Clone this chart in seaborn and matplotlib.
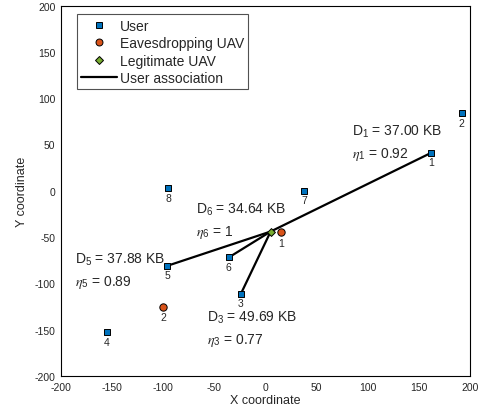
import numpy as np
import pandas as pd
import matplotlib
matplotlib.use("Agg")
import matplotlib.pyplot as plt
import seaborn as sns
from matplotlib.lines import Line2D

# user positions
user_x = [162, 192, -24, -155, -96, -36, 38, -95]
user_y = [41, 84, -111, -153, -81, -72, 0, 3]
# eavesdropping UAVs
eve_x = [15, -100]
eve_y = [-45, -125]
# legitimate UAV
uav_x = [5]
uav_y = [-44]
# associated users (1-based index)
assoc = [1, 5, 6, 3]
data_kb = [37.00, 37.88, 34.64, 49.69]
eta = ["0.92", "0.89", "1", "0.77"]

sns.set_style("white")
plt.rcParams["font.family"] = ["Liberation Sans", "DejaVu Sans"]
plt.rcParams["mathtext.fontset"] = "stix"
plt.rcParams["axes.unicode_minus"] = False

fig = plt.figure(figsize=(4.82, 4.10), dpi=100)
ax = fig.add_axes([0.1266, 0.0805, 0.8486, 0.9035])

users = pd.DataFrame({"x": user_x, "y": user_y})
eves = pd.DataFrame({"x": eve_x, "y": eve_y})
uav = pd.DataFrame({"x": uav_x, "y": uav_y})

# association lines
for k in assoc:
    seg = pd.DataFrame({"x": [uav_x[0], user_x[k - 1]], "y": [uav_y[0], user_y[k - 1]]})
    sns.lineplot(data=seg, x="x", y="y", color="black", lw=1.6, ax=ax, sort=False,
                 zorder=2)

sns.scatterplot(data=users, x="x", y="y", marker="s", color="#0072BD", edgecolor="black",
                linewidth=0.7, s=17, ax=ax, zorder=3)
sns.scatterplot(data=eves, x="x", y="y", marker="o", color="#D95319", edgecolor="black",
                linewidth=0.7, s=28, ax=ax, zorder=3)
sns.scatterplot(data=uav, x="x", y="y", marker="D", color="#77AC30", edgecolor="black",
                linewidth=0.7, s=16, ax=ax, zorder=4)

# point labels
for i, (x, y) in enumerate(zip(user_x, user_y)):
    ax.text(x, y - 5, str(i + 1), ha="center", va="top", fontsize=7.5)
for i, (x, y) in enumerate(zip(eve_x, eve_y)):
    ax.text(x, y - 6, str(i + 1), ha="center", va="top", fontsize=7.5)

# data / eta annotations
ann_pos = [(85, 65), (-186, -73), (-68, -20), (-57, -136)]
for k, d, e, (tx, ty) in zip(assoc, data_kb, eta, ann_pos):
    ax.text(tx, ty, r"$\mathregular{D_{%d}}$ = %.2f KB" % (k, d), ha="left", va="center",
            fontsize=10)
    ax.text(tx, ty - 24.5, r"$\eta_{\mathregular{%d}}$" % k + " = " + e, ha="left",
            va="center", fontsize=10)

ax.set_xlim(-200, 200)
ax.set_ylim(-200, 200)
ax.set_xticks(np.arange(-200, 201, 50))
ax.set_yticks(np.arange(-200, 201, 50))
ax.tick_params(direction="in", length=3, labelsize=7.5, colors="black",
               labelcolor="#262626", width=0.8, pad=4)
ax.set_xlabel("X coordinate", fontsize=9, labelpad=2)
ax.set_ylabel("Y coordinate", fontsize=9, labelpad=5)
for sp in ax.spines.values():
    sp.set_color("black")
    sp.set_linewidth(0.8)

handles = [
    Line2D([], [], marker="s", ls="", color="#0072BD", mec="black", mew=0.7, ms=4),
    Line2D([], [], marker="o", ls="", color="#D95319", mec="black", mew=0.7, ms=5),
    Line2D([], [], marker="D", ls="", color="#77AC30", mec="black", mew=0.7, ms=4),
    Line2D([], [], color="black", lw=1.6),
]
labels = ["User", "Eavesdropping UAV", "Legitimate UAV", "User association"]
leg = ax.legend(handles, labels, loc="upper left", bbox_to_anchor=(0.039, 0.976),
                fontsize=10, frameon=True, fancybox=False, edgecolor="#262626",
                borderpad=0.3, labelspacing=0.25, handlelength=2.6, handletextpad=0.2,
                borderaxespad=0)
leg.get_frame().set_linewidth(0.8)

fig.savefig("out.png", dpi=100)
